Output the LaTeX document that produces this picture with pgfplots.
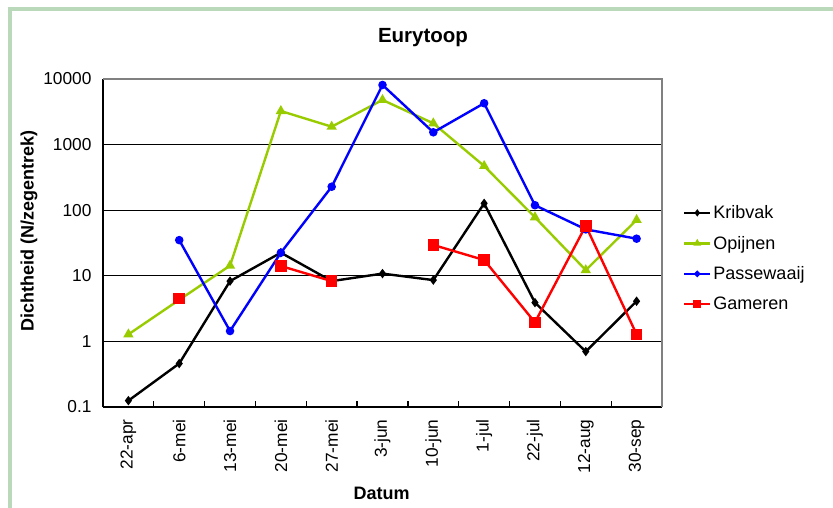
\documentclass[border=0pt]{standalone}
\usepackage{pgfplots}
\pgfplotsset{compat=1.18}
\usepackage{fontspec}
\setmainfont{Liberation Sans}

\definecolor{framegreen}{RGB}{186,216,186}
\definecolor{opgreen}{RGB}{153,204,0}
\definecolor{bordergray}{RGB}{128,128,128}

\begin{document}
\begin{tikzpicture}
\useasboundingbox (0,0) rectangle (833bp,508bp);
% page frame
\draw[framegreen, line width=4bp] (9.5bp,-2bp) -- (9.5bp,499bp) -- (836bp,499bp);

\begin{axis}[
  at={(103bp,101bp)}, anchor=south west,
  scale only axis, width=559bp, height=328bp,
  ymode=log, ymin=0.1, ymax=10000,
  xmin=-0.5, xmax=10.5,
  clip=false,
  axis lines*=left,
  axis line style={-, black, line width=1.8bp},
  tick align=inside,
  major tick length=6bp,
  tick style={black, line width=1.2bp},
  ytick={0.1,1,10,100,1000,10000},
  yticklabels={0.1,1,10,100,1000,10000},
  yminorticks=false,
  ymajorgrids,
  major grid style={black, line width=0.8bp},
  xtick={-0.5,0.5,...,10.5},
  xticklabels={},
  extra x ticks={0,1,2,3,4,5,6,7,8,9,10},
  extra x tick labels={22-apr,6-mei,13-mei,20-mei,27-mei,3-jun,10-jun,1-jul,22-jul,12-aug,30-sep},
  extra x tick style={major tick length=0pt},
  xticklabel style={rotate=90, anchor=east},
  xticklabel shift=9bp,
  yticklabel shift=8bp,
  tick label style={font=\fontsize{17.3bp}{20bp}\selectfont},
  /pgf/number format/assume math mode=true,
  title={Eurytoop},
  title style={at={(0.5725,1.0945)}, anchor=base, font=\fontsize{20.5bp}{24bp}\selectfont\bfseries},
  xlabel={Datum},
  xlabel style={at={(axis description cs:0.4986,-0.262)}, anchor=center, font=\fontsize{18bp}{21bp}\selectfont\bfseries},
  ylabel={Dichtheid (N/zegentrek)},
  ylabel style={at={(axis description cs:-0.1324,0.537)}, anchor=center, rotate=0, font=\fontsize{18bp}{21bp}\selectfont\bfseries},
  unbounded coords=jump,
  every axis plot/.append style={line width=2.4bp},
  legend cell align=left,
  legend style={at={(1.032,0.453)}, anchor=west, draw=none, fill=none,
    font=\fontsize{18bp}{21bp}\selectfont, row sep=12bp,
    /tikz/every even column/.append style={column sep=2bp}},
  legend image code/.code={
    \draw[mark repeat=2, mark phase=2, #1, every mark/.append style={scale=0.6}]
      plot coordinates {(0bp,0bp) (13bp,0bp) (26bp,0bp)};
  },
]

% Kribvak
\addplot[black, mark=diamond*, mark size=2.8bp, mark options={solid}] coordinates {
  (0,0.125) (1,0.46) (2,8.3) (3,22.5) (4,8.3) (5,10.8) (6,8.6) (7,127) (8,3.9) (9,0.70) (10,4.1)
};
\addlegendentry{Kribvak}

% Opijnen
\addplot[opgreen, mark=triangle*, mark size=3.6bp, mark options={solid}] coordinates {
  (0,1.28) (1,4.3) (2,14.3) (3,3250) (4,1875) (5,4790) (6,2110) (7,472) (8,78) (9,12.2) (10,71)
};
\addlegendentry{Opijnen}

% Passewaaij
\addplot[blue, mark=*, mark size=3bp, mark options={solid}] coordinates {
  (0,nan) (1,35) (2,1.44) (3,22.5) (4,228) (5,8110) (6,1540) (7,4270) (8,119) (9,51) (10,36.8)
};
\addlegendentry{Passewaaij}

% Gameren
\addplot[red, mark=square*, mark size=4.6bp, mark options={solid}] coordinates {
  (0,nan) (1,4.5) (2,nan) (3,14.1) (4,8.3) (5,nan) (6,29.5) (7,17.4) (8,1.95) (9,58) (10,1.28)
};
\addlegendentry{Gameren}

% plot area border on top and right
\draw[bordergray, line width=1.2bp] (rel axis cs:0,1) -- (rel axis cs:1,1) -- (rel axis cs:1,0);
\end{axis}
\end{tikzpicture}
\end{document}
